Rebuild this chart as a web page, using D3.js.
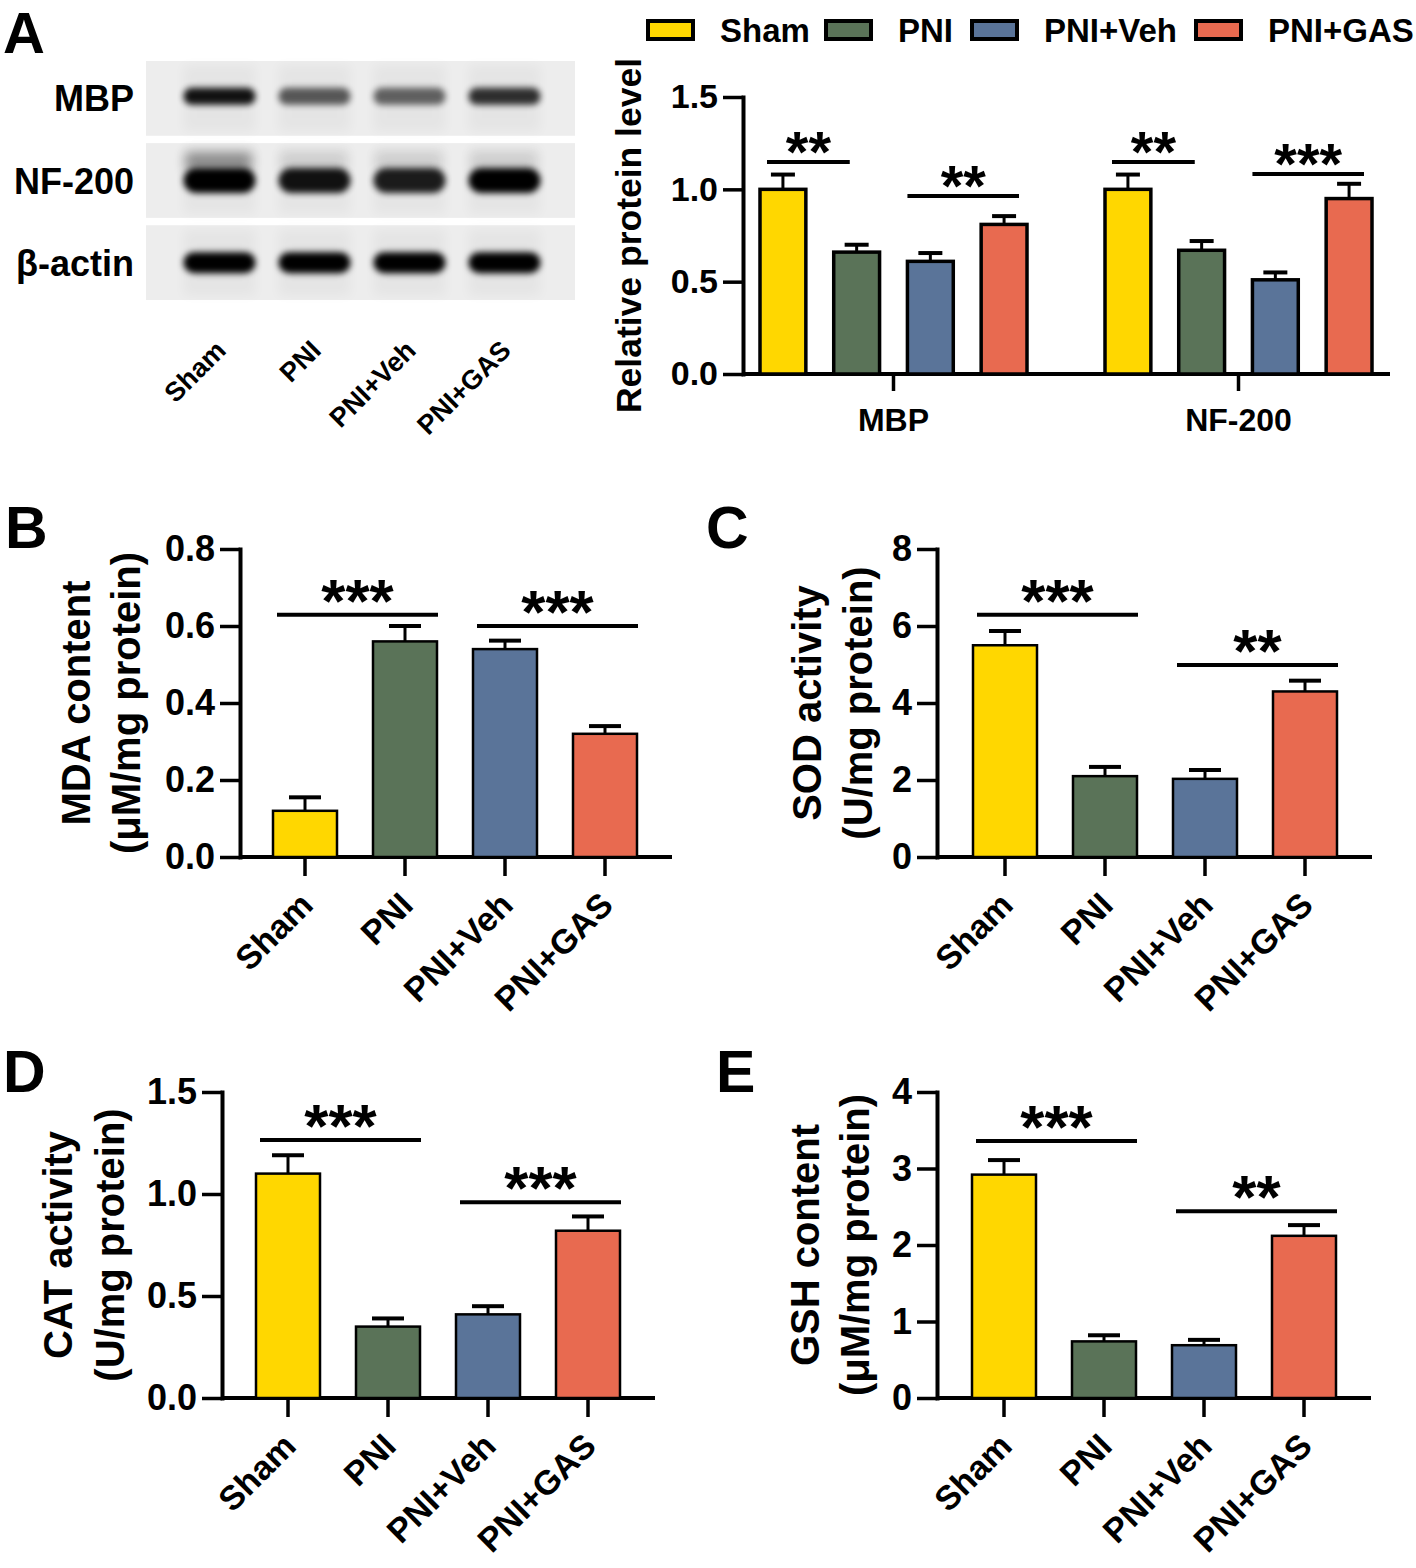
<!DOCTYPE html>
<html><head><meta charset="utf-8">
<script src="https://cdn.jsdelivr.net/npm/d3@7"></script>
<style>
body{margin:0;background:#fff}
svg text{font-family:"Liberation Sans",Arial,Helvetica,sans-serif;font-weight:bold;fill:#000}
</style></head><body>
<svg id="fig" width="1416" height="1568"></svg>
<script>
// ---------------- data ----------------
const groups = ["Sham","PNI","PNI+Veh","PNI+GAS"];
const proteins = ["MBP","NF-200"];
const mbpMean = [1.00,0.66,0.61,0.81];
const mbpErr  = [0.08,0.04,0.045,0.045];
const nf200Mean = [1.00,0.67,0.51,0.95];
const nf200Err  = [0.08,0.05,0.04,0.08];
const proteinTicks = [0,0.5,1.0,1.5];
const proteinSig = [
  {protein:"MBP",a:0,b:1,y:1.148,label:"**"},
  {protein:"MBP",a:2,b:3,y:0.964,label:"**"},
  {protein:"NF-200",a:0,b:1,y:1.148,label:"**"},
  {protein:"NF-200",a:2,b:3,y:1.083,label:"***"}];

const blotRows = ["MBP","NF-200","β-actin"];
const mbpBand   = [0.92,0.62,0.58,0.80];
const nf200Band = [1.00,0.92,0.88,1.00];
const actinBand = [1.00,1.00,1.00,1.00];

const mdaMean = [0.12,0.56,0.54,0.32];
const mdaErr  = [0.035,0.04,0.022,0.02];
const mdaTicks = [0,0.2,0.4,0.6,0.8];
const mdaSig = [{a:0,b:1,y:0.629,label:"***"},{a:2,b:3,y:0.600,label:"***"}];

const sodMean = [5.5,2.1,2.03,4.3];
const sodErr  = [0.37,0.24,0.23,0.28];
const sodTicks = [0,2,4,6,8];
const sodSig = [{a:0,b:1,y:6.29,label:"***"},{a:2,b:3,y:4.99,label:"**"}];

const catMean = [1.10,0.35,0.41,0.82];
const catErr  = [0.09,0.04,0.04,0.07];
const catTicks = [0,0.5,1.0,1.5];
const catSig = [{a:0,b:1,y:1.265,label:"***"},{a:2,b:3,y:0.96,label:"***"}];

const gshMean = [2.92,0.74,0.69,2.12];
const gshErr  = [0.19,0.08,0.07,0.14];
const gshTicks = [0,1,2,3,4];
const gshSig = [{a:0,b:1,y:3.36,label:"***"},{a:2,b:3,y:2.44,label:"**"}];

// ---------------- style / layout ----------------
const colors = ["#FFD700","#5A7358","#5A7499","#E86A50"];
const color = d3.scaleOrdinal().domain(groups).range(colors);
const legendX = [648,826,972,1196];
const svg = d3.select("#fig");

function styleAxis(g, w, fs){
  g.selectAll("path.domain").attr("stroke","#000").attr("stroke-width",w).attr("stroke-linecap","square");
  g.selectAll(".tick line").attr("stroke","#000").attr("stroke-width",w-0.5);
  g.attr("font-family",null).attr("font-size",fs);
}

// ---------------- panel letters ----------------
[["A",3,53],["B",5,548],["C",706,548],["D",3,1092],["E",716,1092]].forEach(([t,x,y])=>{
  svg.append("text").attr("x",x).attr("y",y).attr("font-size",t==="A"?58:59).text(t);
});

// ---------------- western blot ----------------
(function(){
  const defs = svg.append("defs");
  defs.append("filter").attr("id","blur").attr("x","-30%").attr("y","-100%").attr("width","160%").attr("height","300%")
    .append("feGaussianBlur").attr("stdDeviation",3.2);
  defs.append("filter").attr("id","blur2").attr("x","-30%").attr("y","-100%").attr("width","160%").attr("height","300%")
    .append("feGaussianBlur").attr("stdDeviation",6);
  const rowY = d3.scaleBand().domain(blotRows).range([61,300]).paddingInner(0.09);
  const lane = d3.scaleBand().domain(groups).range([172,552]).paddingInner(0.2).paddingOuter(0.1);
  const bands = {"MBP":mbpBand,"NF-200":nf200Band,"β-actin":actinBand};
  const bandH = {"MBP":17,"NF-200":25,"β-actin":21};
  const g = svg.append("g");
  blotRows.forEach(r=>{
    g.append("rect").attr("x",146).attr("y",rowY(r)).attr("width",429).attr("height",rowY.bandwidth()).attr("fill","#ededed");
    const cy = rowY(r)+rowY.bandwidth()/2 - (r==="MBP"?2:0);
    groups.forEach((k,i)=>{
      g.append("rect").attr("x",lane(k)+2).attr("y",rowY(r)+4).attr("width",lane.bandwidth()-4).attr("height",rowY.bandwidth()-8)
        .attr("fill","#000").attr("opacity",0.03).attr("filter","url(#blur2)");
      if(r==="NF-200"){
        g.append("rect").attr("x",lane(k)+4).attr("y",cy-28).attr("width",lane.bandwidth()-10).attr("height",18)
          .attr("fill","#000").attr("opacity",i===0?0.4:0.1).attr("filter","url(#blur2)");
      }
      const h = bandH[r];
      g.append("rect").attr("x",lane(k)+2).attr("y",cy-h/2).attr("width",lane.bandwidth()-4).attr("height",h)
        .attr("rx",h/2).attr("fill","#000").attr("opacity",bands[r][i]).attr("filter","url(#blur)");
    });
    svg.append("text").attr("x",134).attr("y",rowY(r)+rowY.bandwidth()/2+13).attr("text-anchor","end")
      .attr("font-size",36).text(r);
  });
  groups.forEach(k=>{
    svg.append("text").attr("transform",`translate(${lane(k)+lane.bandwidth()/2+8},352) rotate(-45)`)
      .attr("text-anchor","end").attr("font-size",27).text(k);
  });
})();

// ---------------- panel A grouped bars ----------------
(function(){
  const axisX = 743, y0 = 374;
  const x0 = d3.scalePoint().domain(proteins).range([893,1238]);
  const x1 = d3.scaleBand().domain(groups).range([-133,134]).paddingInner(0.378).paddingOuter(0);
  const y = d3.scaleLinear().domain([0,1.5]).range([y0,97]);
  const gy = svg.append("g").attr("transform",`translate(${axisX},0)`)
    .call(d3.axisLeft(y).tickValues(proteinTicks).tickFormat(d3.format(".1f")).tickSize(20).tickSizeOuter(0).tickPadding(5));
  styleAxis(gy,4,34);
  const gx = svg.append("g").attr("transform",`translate(0,${y0})`)
    .call(d3.axisBottom(x0).tickSize(17).tickPadding(17));
  gx.select("path.domain").remove();
  styleAxis(gx,4,32);
  svg.append("line").attr("x1",axisX).attr("x2",1390).attr("y1",y0).attr("y2",y0).attr("stroke","#000").attr("stroke-width",4);
  const series = {"MBP":[mbpMean,mbpErr],"NF-200":[nf200Mean,nf200Err]};
  const bw = x1.bandwidth();
  proteins.forEach(p=>{
    const [m,e] = series[p];
    const gg = svg.append("g").attr("transform",`translate(${x0(p)},0)`);
    groups.forEach((k,i)=>{
      const cx = x1(k)+bw/2;
      gg.append("line").attr("x1",cx).attr("x2",cx).attr("y1",y(m[i])).attr("y2",y(m[i]+e[i])).attr("stroke","#000").attr("stroke-width",3);
      gg.append("line").attr("x1",cx-12).attr("x2",cx+12).attr("y1",y(m[i]+e[i])).attr("y2",y(m[i]+e[i])).attr("stroke","#000").attr("stroke-width",4);
      gg.append("rect").attr("x",x1(k)).attr("y",y(m[i])).attr("width",bw).attr("height",y0-y(m[i]))
        .attr("fill",color(k)).attr("stroke","#000").attr("stroke-width",3.5);
    });
    proteinSig.filter(s=>s.protein===p).forEach(s=>{
      const xa = x1(groups[s.a])+ (s.a===0?7:0);
      const xb = s.a===0 ? x1(groups[s.b])+bw*0.35 : x1(groups[s.b])+bw-8;
      gg.append("line").attr("x1",xa).attr("x2",xb).attr("y1",y(s.y)).attr("y2",y(s.y)).attr("stroke","#000").attr("stroke-width",4);
      gg.append("text").attr("x",(xa+xb)/2).attr("y",y(s.y)+10).attr("text-anchor","middle").attr("font-size",58).text(s.label);
    });
  });
  svg.append("text").attr("transform",`translate(641,${(97+374)/2}) rotate(-90)`).attr("text-anchor","middle")
    .attr("font-size",35.5).text("Relative protein level");
  // legend
  groups.forEach((k,i)=>{
    svg.append("rect").attr("x",legendX[i]).attr("y",21).attr("width",45).attr("height",18).attr("fill",color(k))
      .attr("stroke","#000").attr("stroke-width",4);
    svg.append("text").attr("x",legendX[i]+72).attr("y",42).attr("font-size",33).text(k);
  });
})();

// ---------------- panels B–E ----------------
function barPanel(c){
  const x = d3.scaleBand().domain(groups).range([c.c0-50,c.c0+350]).paddingInner(0.36).paddingOuter(0.18);
  const y = d3.scaleLinear().domain([0,c.ticks[c.ticks.length-1]]).range([c.y0,c.yTop]);
  const gy = svg.append("g").attr("transform",`translate(${c.axisX},0)`)
    .call(d3.axisLeft(y).tickValues(c.ticks).tickFormat(c.fmt).tickSize(20).tickSizeOuter(0).tickPadding(5));
  styleAxis(gy,4,36);
  const gx = svg.append("g").attr("transform",`translate(0,${c.y0})`)
    .call(d3.axisBottom(x).tickSize(19).tickFormat(""));
  gx.select("path.domain").remove();
  styleAxis(gx,4,36);
  svg.append("line").attr("x1",c.axisX).attr("x2",c.c0+367).attr("y1",c.y0).attr("y2",c.y0).attr("stroke","#000").attr("stroke-width",4);
  const bw = x.bandwidth();
  groups.forEach((k,i)=>{
    const cx = x(k)+bw/2, top = y(c.mean[i]+c.err[i]);
    svg.append("line").attr("x1",cx).attr("x2",cx).attr("y1",y(c.mean[i])).attr("y2",top).attr("stroke","#000").attr("stroke-width",3);
    svg.append("line").attr("x1",cx-16).attr("x2",cx+16).attr("y1",top).attr("y2",top).attr("stroke","#000").attr("stroke-width",4);
    svg.append("rect").attr("x",x(k)).attr("y",y(c.mean[i])).attr("width",bw).attr("height",c.y0-y(c.mean[i]))
      .attr("fill",color(k)).attr("stroke","#000").attr("stroke-width",2.5);
    svg.append("text").attr("transform",`translate(${cx+10},${c.y0+50}) rotate(-45)`)
      .attr("text-anchor","end").attr("font-size",34).text(k);
  });
  c.sig.forEach(s=>{
    const xa = x(groups[s.a])+4, xb = x(groups[s.b])+bw+1;
    svg.append("line").attr("x1",xa).attr("x2",xb).attr("y1",y(s.y)).attr("y2",y(s.y)).attr("stroke","#000").attr("stroke-width",4);
    svg.append("text").attr("x",(xa+xb)/2).attr("y",y(s.y)+7).attr("text-anchor","middle").attr("font-size",62).text(s.label);
  });
  const mid = (c.y0+c.yTop)/2;
  svg.append("text").attr("transform",`translate(${c.t1x},${mid}) rotate(-90)`).attr("text-anchor","middle")
    .attr("font-size",40).text(c.title1);
  svg.append("text").attr("transform",`translate(${c.t2x},${mid}) rotate(-90)`).attr("text-anchor","middle")
    .attr("font-size",40).text(c.title2);
}

barPanel({axisX:240,c0:305,y0:857,yTop:549,ticks:mdaTicks,fmt:d3.format(".1f"),mean:mdaMean,err:mdaErr,sig:mdaSig,
  title1:"MDA content",title2:"(μM/mg protein)",t1x:90,t2x:140});
barPanel({axisX:937,c0:1005,y0:857,yTop:549,ticks:sodTicks,fmt:d3.format("d"),mean:sodMean,err:sodErr,sig:sodSig,
  title1:"SOD activity",title2:"(U/mg protein)",t1x:821,t2x:872});
barPanel({axisX:222,c0:288,y0:1398,yTop:1092,ticks:catTicks,fmt:d3.format(".1f"),mean:catMean,err:catErr,sig:catSig,
  title1:"CAT activity",title2:"(U/mg protein)",t1x:72,t2x:124});
barPanel({axisX:937,c0:1004,y0:1398,yTop:1092,ticks:gshTicks,fmt:d3.format("d"),mean:gshMean,err:gshErr,sig:gshSig,
  title1:"GSH content",title2:"(μM/mg protein)",t1x:819,t2x:869});
</script>
</body></html>
